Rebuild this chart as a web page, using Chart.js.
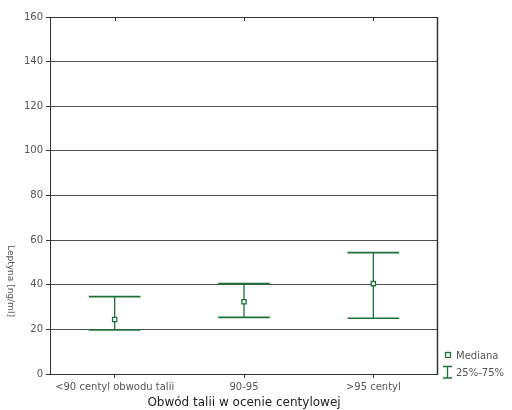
<!DOCTYPE html>
<html>
<head>
<meta charset="utf-8">
<script src="https://cdn.jsdelivr.net/npm/chart.js@4/dist/chart.umd.min.js"></script>
<style>
  html, body { margin: 0; padding: 0; background: #fff; }
  #wrap { width: 512px; height: 410px; }
</style>
</head>
<body>
<div id="wrap"><canvas id="leptynaChart" width="512" height="410"></canvas></div>
<script>
// Dane
const categories = ['<90 centyl obwodu talii', '90-95', '>95 centyl'];
const medians = [24.4, 32.4, 40.5];
const q25 = [19.7, 25.4, 25.0];
const q75 = [34.7, 40.5, 54.4];
const yTicks = [0, 20, 40, 60, 80, 100, 120, 140, 160];

const GREEN = '#1f7038';
const GRID = '#505050';
const TEXT = '#555';
const FONT = 'DejaVu Sans';

// wąsy 25%-75%, ramka, tytuł osi Y i legenda
const whiskerPlugin = {
    id: 'whiskers',
    beforeDatasetsDraw(chart) {
        const ctx = chart.ctx;
        const x = chart.scales.x, y = chart.scales.y;
        const half = (x.getPixelForValue(1) - x.getPixelForValue(0)) * 0.2;
        ctx.save();
        ctx.strokeStyle = GREEN;
        categories.forEach((c, i) => {
            const px = x.getPixelForValue(i);
            const top = y.getPixelForValue(q75[i]);
            const bot = y.getPixelForValue(q25[i]);
            ctx.lineWidth = 1.3;
            ctx.beginPath();
            ctx.moveTo(px, top); ctx.lineTo(px, bot);
            ctx.stroke();
            ctx.lineWidth = 1.6;
            ctx.beginPath();
            ctx.moveTo(px - half, top); ctx.lineTo(px + half, top);
            ctx.moveTo(px - half, bot); ctx.lineTo(px + half, bot);
            ctx.stroke();
        });
        ctx.restore();
    },
    afterDraw(chart) {
        const ctx = chart.ctx;
        const a = chart.chartArea;
        ctx.save();
        // ramka
        ctx.strokeStyle = '#333';
        ctx.lineWidth = 1;
        ctx.strokeRect(a.left + 0.5, a.top + 0.5, a.right - a.left - 1, a.bottom - a.top);
        ctx.lineWidth = 1.5;
        ctx.beginPath();
        ctx.moveTo(a.right - 0.5, a.top); ctx.lineTo(a.right - 0.5, a.bottom);
        ctx.stroke();
        // znaczniki na górnej krawędzi
        const x = chart.scales.x;
        ctx.lineWidth = 1;
        ctx.beginPath();
        categories.forEach((c, i) => {
            const px = Math.round(x.getPixelForValue(i)) + 0.5;
            ctx.moveTo(px, a.top); ctx.lineTo(px, a.top + 4);
        });
        ctx.stroke();
        // tytuł osi Y
        ctx.fillStyle = TEXT;
        ctx.font = '9px "' + FONT + '"';
        ctx.textAlign = 'center';
        ctx.textBaseline = 'middle';
        ctx.translate(10, 281);
        ctx.rotate(Math.PI / 2);
        ctx.fillText('Leptyna [ng/ml]', 0, 0);
        ctx.restore();

        // legenda
        ctx.save();
        const lx = a.right + 10;
        ctx.strokeStyle = GREEN;
        ctx.fillStyle = '#fff';
        ctx.lineWidth = 1.3;
        ctx.fillRect(lx - 2.5, 352.5, 5, 5);
        ctx.strokeRect(lx - 2.5, 352.5, 5, 5);
        ctx.beginPath();
        ctx.moveTo(lx - 5, 366.5); ctx.lineTo(lx + 4, 366.5);
        ctx.moveTo(lx - 0.5, 366.5); ctx.lineTo(lx - 0.5, 378);
        ctx.moveTo(lx - 5, 378); ctx.lineTo(lx + 4, 378);
        ctx.stroke();
        ctx.fillStyle = TEXT;
        ctx.font = '10px "' + FONT + '"';
        ctx.textAlign = 'left';
        ctx.textBaseline = 'middle';
        ctx.fillText('Mediana', lx + 8, 356);
        ctx.fillText('25%-75%', lx + 8, 373);
        ctx.restore();
    }
};

new Chart(document.getElementById('leptynaChart'), {
    type: 'line',
    data: {
        labels: categories,
        datasets: [{
            label: 'Mediana',
            data: medians,
            showLine: false,
            pointStyle: 'rect',
            pointRadius: 3,
            pointBorderWidth: 1.3,
            pointBorderColor: GREEN,
            pointBackgroundColor: '#fff'
        }]
    },
    options: {
        responsive: false,
        animation: false,
        layout: { padding: { top: 17, right: 74, left: 0, bottom: 0 } },
        plugins: {
            legend: { display: false },
            tooltip: { enabled: false }
        },
        scales: {
            x: {
                offset: true,
                grid: { display: true, drawOnChartArea: false, tickLength: 4, color: '#333', offset: false },
                border: { display: false },
                ticks: { color: TEXT, font: { family: FONT, size: 10 }, padding: 3, maxRotation: 0 },
                title: {
                    display: true,
                    text: 'Obwód talii w ocenie centylowej',
                    color: '#222',
                    font: { family: FONT, size: 12 },
                    padding: { top: 0, bottom: 0 }
                },
                afterFit(scale) { scale.height = 36; }
            },
            y: {
                min: 0,
                max: 160,
                afterBuildTicks(scale) { scale.ticks = yTicks.map(v => ({ value: v })); },
                grid: { color: GRID, tickLength: 4, tickColor: '#333' },
                border: { display: false },
                ticks: { color: TEXT, font: { family: FONT, size: 10 }, padding: 3 },
                afterFit(scale) { scale.width = 50; }
            }
        }
    },
    plugins: [whiskerPlugin]
});
</script>
</body>
</html>
